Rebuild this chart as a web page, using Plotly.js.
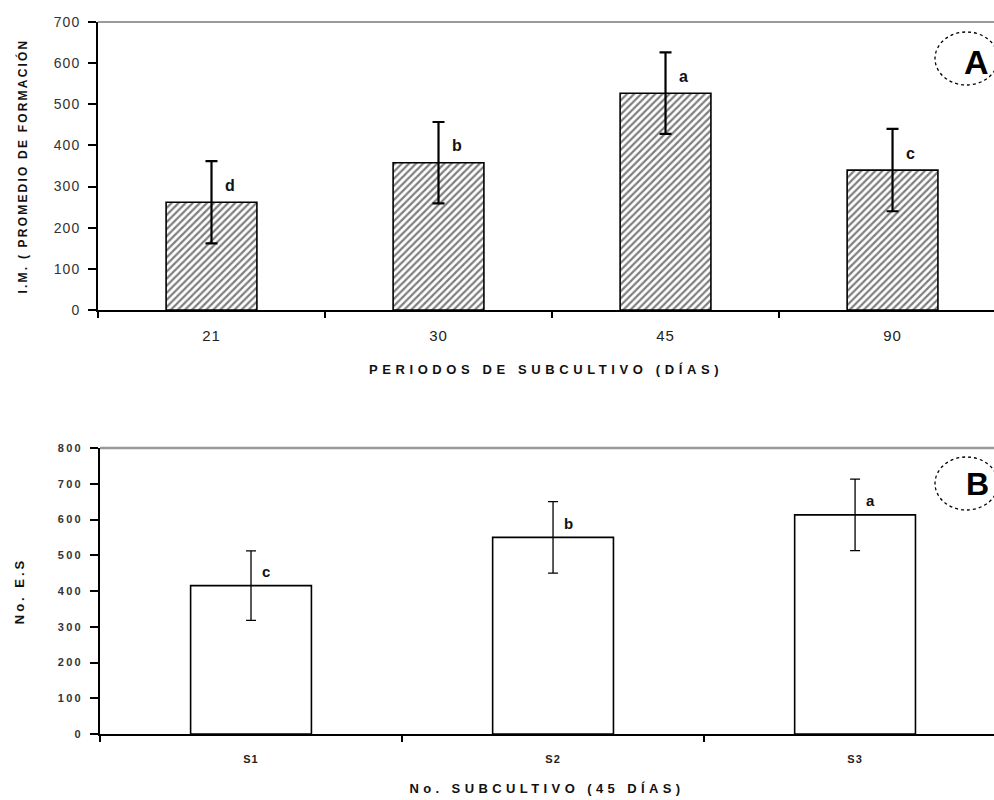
<!DOCTYPE html>
<html>
<head>
<meta charset="utf-8">
<script src="https://cdn.plot.ly/plotly-3.0.1.min.js"></script>
<style>
  html, body { margin: 0; padding: 0; background: #fff; overflow: hidden; }
  #chart { width: 994px; height: 800px; }
  .xtitle { letter-spacing: 4.6px; }
  .x2title { letter-spacing: 4.4px; }
  .ytitle { letter-spacing: 2.2px; }
  .y2title { letter-spacing: 3px; }
  .ytick text { letter-spacing: 1px; }
  .xtick text { letter-spacing: 1px; }
  .y2tick text { letter-spacing: 2.2px; }
  .x2tick text { letter-spacing: 1px; }
</style>
</head>
<body>
<div id="chart"></div>
<script>
// ---- Data ----
const periodos = ['21', '30', '45', '90'];
const imValues = [262, 358, 527, 340];
const imErrors = [100, 99, 99, 100];
const imLetters = ['d', 'b', 'a', 'c'];

const subcultivos = ['S1', 'S2', 'S3'];
const esValues = [415, 550, 613];
const esErrors = [97, 100, 100];
const esLetters = ['c', 'b', 'a'];

const yTicksA = [0, 100, 200, 300, 400, 500, 600, 700];
const yTicksB = [0, 100, 200, 300, 400, 500, 600, 700, 800];

// ---- Layout helpers (pixel -> paper) ----
const W = 994, H = 800;
const px = v => v / W;
const py = v => 1 - v / H;

const font = 'Liberation Sans, Arial, sans-serif';

const traceA = {
  type: 'bar',
  x: periodos,
  y: imValues,
  xaxis: 'x', yaxis: 'y',
  width: 0.4,
  marker: {
    color: 'white',
    line: { color: 'black', width: 1.6 },
    pattern: { shape: '/', fgcolor: 'black', bgcolor: 'white', size: 5, solidity: 0.45, fillmode: 'overlay' }
  },
  error_y: { type: 'data', array: imErrors, visible: true, color: 'black', thickness: 2.2, width: 6 },
  hoverinfo: 'x+y',
  showlegend: false
};

const traceB = {
  type: 'bar',
  x: subcultivos,
  y: esValues,
  xaxis: 'x2', yaxis: 'y2',
  width: 0.4,
  marker: { color: 'white', line: { color: 'black', width: 1.6 } },
  error_y: { type: 'data', array: esErrors, visible: true, color: 'black', thickness: 1.3, width: 5 },
  hoverinfo: 'x+y',
  showlegend: false
};

const annotations = [];
periodos.forEach((p, i) => {
  annotations.push({
    xref: 'x', yref: 'y', x: i, y: imValues[i],
    text: '<b>' + imLetters[i] + '</b>', showarrow: false,
    xanchor: 'center', yanchor: 'middle',
    xshift: 18, yshift: 17,
    font: { family: font, size: 16, color: '#111' }
  });
});
subcultivos.forEach((s, i) => {
  annotations.push({
    xref: 'x2', yref: 'y2', x: i, y: esValues[i],
    text: '<b>' + esLetters[i] + '</b>', showarrow: false,
    xanchor: 'center', yanchor: 'middle',
    xshift: 15, yshift: 14,
    font: { family: font, size: 15, color: '#111' }
  });
});
// panel letters
annotations.push({
  xref: 'paper', yref: 'paper', x: px(976), y: py(62),
  xanchor: 'center', yanchor: 'middle',
  text: '<b>A</b>', showarrow: false,
  font: { family: font, size: 34, color: '#000' }
});
annotations.push({
  xref: 'paper', yref: 'paper', x: px(977), y: py(484),
  xanchor: 'center', yanchor: 'middle',
  text: '<b>B</b>', showarrow: false,
  font: { family: font, size: 32, color: '#000' }
});

const shapes = [
  // grey top borders
  { type: 'line', xref: 'paper', yref: 'paper', x0: px(98), x1: 1, y0: py(22), y1: py(22),
    line: { color: '#9a9a9a', width: 2 } },
  { type: 'line', xref: 'paper', yref: 'paper', x0: px(100), x1: 1, y0: py(448), y1: py(448),
    line: { color: '#9a9a9a', width: 2.5 } },
  // dotted ellipses around panel letters
  { type: 'circle', xref: 'paper', yref: 'paper', x0: px(935), x1: px(998), y0: py(85), y1: py(32),
    line: { color: 'black', width: 1.3, dash: 'dot' } },
  { type: 'circle', xref: 'paper', yref: 'paper', x0: px(935), x1: px(998), y0: py(510), y1: py(457),
    line: { color: 'black', width: 1.3, dash: 'dot' } }
];

const layout = {
  width: W, height: H,
  margin: { l: 0, r: 0, t: 0, b: 0 },
  paper_bgcolor: 'white', plot_bgcolor: 'white',
  showlegend: false,
  xaxis: {
    domain: [px(98), 1], anchor: 'y',
    type: 'category', range: [-0.5, 3.447],
    tickson: 'boundaries', ticks: 'outside', ticklen: 6, tickwidth: 1.5, tickcolor: 'black',
    showline: true, linecolor: 'black', linewidth: 1.5,
    showgrid: false, zeroline: false, fixedrange: true,
    tickfont: { family: 'Liberation Sans Narrow, Liberation Sans, Arial', size: 15, color: '#222' },
    ticklabelstandoff: 11,
    title: { text: '<b>PERIODOS DE SUBCULTIVO (DÍAS)</b>', standoff: 22,
             font: { family: font, size: 13, color: '#111' } }
  },
  yaxis: {
    domain: [py(310), py(22)], anchor: 'x',
    range: [0, 700], tickvals: yTicksA,
    ticks: 'outside', ticklen: 8, tickwidth: 2, tickcolor: 'black',
    showline: true, linecolor: 'black', linewidth: 2,
    showgrid: false, zeroline: false, fixedrange: true,
    tickfont: { family: font, size: 14, color: '#333' },
    ticklabelstandoff: 5,
    title: { text: '<b>I.M. ( PROMEDIO DE FORMACIÓN</b>', standoff: 24,
             font: { family: font, size: 12, color: '#111' } }
  },
  xaxis2: {
    domain: [px(100), 1], anchor: 'y2',
    type: 'category', range: [-0.5, 2.46],
    tickson: 'boundaries', ticks: 'outside', ticklen: 6, tickwidth: 1.5, tickcolor: 'black',
    showline: true, linecolor: 'black', linewidth: 1.5,
    showgrid: false, zeroline: false, fixedrange: true,
    tickfont: { family: font, size: 11, color: '#222', weight: 'bold' },
    ticklabelstandoff: 14,
    title: { text: '<b>No. SUBCULTIVO (45 DÍAS)</b>', standoff: 20,
             font: { family: font, size: 13, color: '#111' } }
  },
  yaxis2: {
    domain: [py(734), py(448)], anchor: 'x2',
    range: [0, 800], tickvals: yTicksB,
    ticks: 'outside', ticklen: 8, tickwidth: 2, tickcolor: 'black',
    showline: true, linecolor: 'black', linewidth: 2,
    showgrid: false, zeroline: false, fixedrange: true,
    tickfont: { family: font, size: 11, color: '#333', weight: 'bold' },
    ticklabelstandoff: 5,
    title: { text: '<b>No. E.S</b>', standoff: 30,
             font: { family: font, size: 13, color: '#111' } }
  },
  annotations: annotations,
  shapes: shapes
};

Plotly.newPlot('chart', [traceA, traceB], layout, { displayModeBar: false, staticPlot: true });
</script>
</body>
</html>
